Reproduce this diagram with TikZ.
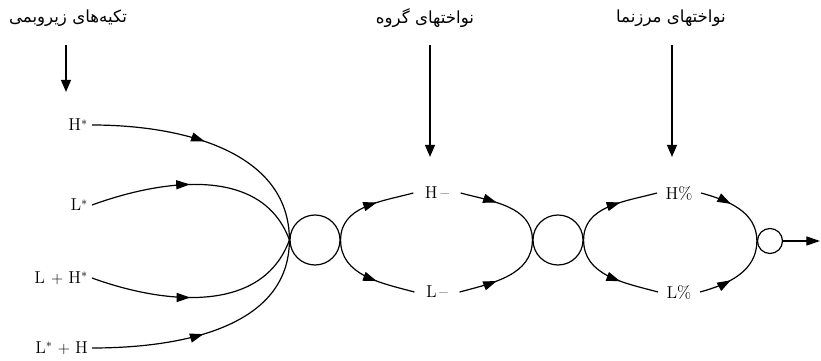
\documentclass[tikz,border=0pt]{standalone}
\usepackage{fontspec}
\newfontfamily\farsi[Script=Arabic]{DejaVu Sans}
\TeXXeTstate=1
\usetikzlibrary{arrows.meta, decorations.markings}
\tikzstyle{down} = [line width=1.4pt, -{Triangle[length=3.2mm, width=2.6mm]}]
\tikzstyle{tone} = [font=\fontsize{13}{15}\selectfont, inner sep=0.1cm]
\tikzstyle{ring} = [draw, circle, line width=0.9pt, inner sep=0pt]
\tikzset{flow/.style={line width=0.9pt, postaction={decorate},
    decoration={markings, mark=at position #1 with
      {\arrow{Triangle[length=3.6mm, width=2.4mm]}}}},
  flow/.default=0.5}
\newcommand{\fa}[1]{\farsi\fontsize{12.5}{15}\selectfont\beginR #1\endR}

\begin{document}
\begin{tikzpicture}[x=0.0264cm, y=0.0264cm]
    \useasboundingbox (0,0) rectangle (821,361);

    % headings
    \node (pitch) at (68,343) {\fa{تکیه‌های زیروبمی}};
    \node (phrase) at (425,343) {\fa{نواختهای گروه}};
    \node (bound) at (671,343) {\fa{نواختهای مرزنما}};

    % arrow ends
    \coordinate (a1s) at (66,316);  \coordinate (a1e) at (66,269);
    \coordinate (a2s) at (430,316); \coordinate (a2e) at (430,204);
    \coordinate (a3s) at (672,316); \coordinate (a3e) at (672,204);
    \draw[down] (a1s) -- (a1e);
    \draw[down] (a2s) -- (a2e);
    \draw[down] (a3s) -- (a3e);

    % pitch accents
    \node[tone, anchor=east] (hs)  at (92,236) {H$^*$};
    \node[tone, anchor=east] (ls)  at (92,156) {L$^*$};
    \node[tone, anchor=east] (lhs) at (92,83)  {L\hspace{0.35em}$+$\hspace{0.3em}H$^*$};
    \node[tone, anchor=east] (lsh) at (92,13)  {L$^*$\hspace{0.3em}$+$\hspace{0.3em}H};

    % states
    \node[ring, minimum size=1.32cm] (c1) at (315,121) {};
    \node[ring, minimum size=1.32cm] (c2) at (558,121) {};
    \node[ring, minimum size=0.66cm] (c3) at (770,120) {};
    \coordinate (out) at (820,120);

    % phrase and boundary tones
    \node[tone, inner xsep=0.3cm] (hm) at (437,168) {H\,--};
    \node[tone, inner xsep=0.3cm] (lm) at (437,69)  {L\,--};
    \node[tone, inner xsep=0.22cm] (hb) at (679,168) {H\%};
    \node[tone, inner xsep=0.22cm] (lb) at (679,69)  {L\%};

    % accents into first state
    \draw[flow=0.45] (hs.east)  to[out=0,   in=90]   (c1.west);
    \draw[flow=0.45] (ls.east)  to[out=20,  in=110]  (c1.west);
    \draw[flow=0.45] (lhs.east) to[out=-20, in=-110] (c1.west);
    \draw[flow=0.45] (lsh.east) to[out=0,   in=-90]  (c1.west);

    % phrase tones
    \draw[flow=0.6] (c1.east) to[out=90,  in=195] (hm.west);
    \draw[flow=0.6] (c1.east) to[out=-90, in=165] (lm.west);
    \draw[flow=0.4] (hm.east) to[out=-15, in=90]  (c2.west);
    \draw[flow=0.4] (lm.east) to[out=15,  in=-90] (c2.west);

    % boundary tones
    \draw[flow=0.6] (c2.east) to[out=90,  in=195] (hb.west);
    \draw[flow=0.6] (c2.east) to[out=-90, in=165] (lb.west);
    \draw[flow=0.4] (hb.east) to[out=-15, in=90]  (c3.west);
    \draw[flow=0.4] (lb.east) to[out=15,  in=-90] (c3.west);

    \draw[line width=0.9pt, -{Triangle[length=3.6mm, width=2.4mm]}] (c3.east) -- (out);
\end{tikzpicture}
\end{document}
